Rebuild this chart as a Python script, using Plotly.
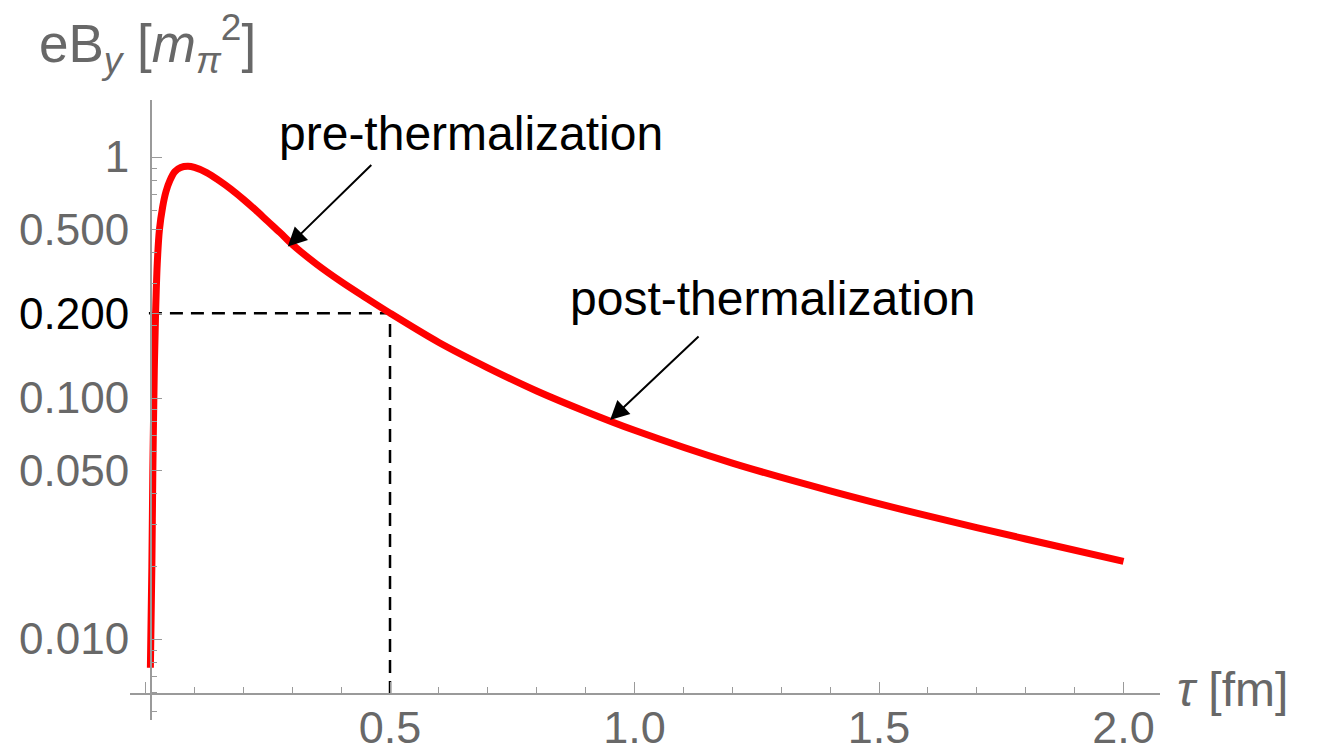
import plotly.graph_objects as go
import math

# ---- data ----
tau = [0.0100, 0.0130, 0.0150, 0.0180, 0.0205, 0.0240, 0.0285, 0.0350, 0.0420,
       0.0500, 0.0600, 0.0720, 0.0870, 0.1000, 0.1250, 0.1500, 0.1750, 0.2000,
       0.2250, 0.2500, 0.2750, 0.3000, 0.3500, 0.4000, 0.4500, 0.5000, 0.6000,
       0.7000, 0.8000, 0.9000, 1.0000, 1.2000, 1.4000, 1.6000, 1.8000, 2.0000]
eBy = [0.0076, 0.020, 0.050, 0.13, 0.22, 0.36, 0.50, 0.62, 0.72,
       0.80, 0.87, 0.905, 0.915, 0.905, 0.862, 0.800, 0.735, 0.668,
       0.603, 0.541, 0.486, 0.434, 0.359, 0.304, 0.261, 0.225, 0.170,
       0.1335, 0.107, 0.088, 0.0735, 0.0537, 0.0412, 0.0324, 0.0260, 0.0210]

mark_tau = 0.5
mark_value = 0.225
mark_label = "0.200"

x_tickvals = [0, 0.5, 1.0, 1.5, 2.0]
x_ticktext = ["", "0.5", "1.0", "1.5", "2.0"]
x_minor = [0.1, 0.2, 0.3, 0.4, 0.6, 0.7, 0.8, 0.9, 1.1, 1.2, 1.3, 1.4,
           1.6, 1.7, 1.8, 1.9]

y_tickvals = [0.01, 0.05, 0.1, 0.5, 1.0]
y_ticktext = ["0.010", "0.050", "0.100", "0.500", "1"]
y_minor = [0.005, 0.006, 0.007, 0.008, 0.009,
           0.02, 0.03, 0.04, 0.06, 0.07, 0.08, 0.09,
           0.2, 0.3, 0.4, 0.6, 0.7, 0.8, 0.9]

pre_point = (0.291, 0.425)
post_point = (0.950, 0.081)

# ---- layout geometry ----
W, H = 1317, 752
L, R, T, B = 130, 157, 100, 32
x_range = [-0.0317, 2.0746]
y_range = [-2.336, 0.2365]
x_axis_cross = 0.00592      # y value where the tau axis sits
y_axis_cross = 0.0107       # tau value where the eB axis sits
dash_left = 0.007

FONT = "Liberation Sans, Arial, Helvetica, sans-serif"
GRAY = "#686868"
AXC = "#9a9a9a"


def ypos(v):
    return (math.log10(v) - y_range[0]) / (y_range[1] - y_range[0])


def xpos(t):
    return (t - x_range[0]) / (x_range[1] - x_range[0])


fig = go.Figure()
fig.add_trace(go.Scatter(
    x=[dash_left, mark_tau, mark_tau], y=[mark_value, mark_value, x_axis_cross],
    mode="lines", line=dict(color="black", width=2.5, dash="13px,8px"),
    hoverinfo="skip", showlegend=False))
fig.add_trace(go.Scatter(
    x=tau, y=eBy, mode="lines",
    line=dict(color="#ff0000", width=7, shape="spline", smoothing=0.9),
    hoverinfo="skip", showlegend=False))

fig.update_layout(
    width=W, height=H, margin=dict(l=L, r=R, t=T, b=B, autoexpand=False),
    paper_bgcolor="white", plot_bgcolor="white",
    font=dict(family=FONT, size=40, color=GRAY),
    xaxis=dict(range=x_range, domain=[0, 1], anchor="free",
               position=ypos(x_axis_cross), automargin=False,
               showline=True, linecolor=AXC, linewidth=1.5,
               showgrid=False, zeroline=False,
               tickmode="array", tickvals=x_tickvals, ticktext=x_ticktext,
               ticks="inside", ticklen=11, tickwidth=1.3, tickcolor=AXC,
               tickfont=dict(size=45, color=GRAY, family=FONT),
               ticklabelstandoff=-6,
               minor=dict(tickmode="array", tickvals=x_minor, ticks="inside",
                          ticklen=6, tickwidth=1.3, tickcolor=AXC,
                          showgrid=False)),
    yaxis=dict(type="log", range=y_range, domain=[0, 1], anchor="free",
               position=xpos(y_axis_cross), automargin=False,
               showline=True, linecolor=AXC, linewidth=1.5,
               showgrid=False, zeroline=False,
               tickmode="array",
               tickvals=y_tickvals + [mark_value],
               ticktext=y_ticktext + ['<span style="color:black">' + mark_label + '</span>'],
               ticks="inside", ticklen=11, tickwidth=1.3, tickcolor=AXC,
               tickfont=dict(size=44, color=GRAY, family=FONT),
               ticklabelstandoff=12,
               minor=dict(tickmode="array", tickvals=y_minor, ticks="inside",
                          ticklen=6, tickwidth=1.3, tickcolor=AXC,
                          showgrid=False)),
)


def px2paper(px, py):
    return (px - L) / (W - L - R), (H - B - py) / (H - T - B)


anns = []
# axis titles
tx, ty = px2paper(37, 44)
anns.append(dict(xref="paper", yref="paper", x=tx, y=ty, xanchor="left", yanchor="middle",
                 text="eB<sub><i>y</i></sub> [<i>m</i><sub><i>π</i></sub><sup>2</sup>]",
                 showarrow=False, font=dict(size=53, color=GRAY, family=FONT)))
tx, ty = px2paper(1175, 689)
anns.append(dict(xref="paper", yref="paper", x=tx, y=ty, xanchor="left", yanchor="middle",
                 text="<i>τ</i> [fm]", showarrow=False,
                 font=dict(size=48, color=GRAY, family=FONT)))
# texts
tx, ty = px2paper(471, 133)
anns.append(dict(xref="paper", yref="paper", x=tx, y=ty, xanchor="center", yanchor="middle",
                 text="pre-thermalization", showarrow=False,
                 font=dict(size=48, color="black", family=FONT)))
tx, ty = px2paper(773, 298)
anns.append(dict(xref="paper", yref="paper", x=tx, y=ty, xanchor="center", yanchor="middle",
                 text="post-thermalization", showarrow=False,
                 font=dict(size=48, color="black", family=FONT)))
# arrows
for (pt, (axo, ayo)) in [(pre_point, (85, -83)), (post_point, (90, -85))]:
    anns.append(dict(xref="x", yref="y", x=pt[0], y=math.log10(pt[1]), text="",
                     showarrow=True, ax=axo, ay=ayo, axref="pixel", ayref="pixel",
                     arrowhead=2, arrowsize=1.9, arrowwidth=2, arrowcolor="black",
                     standoff=0))
fig.update_layout(annotations=anns)

fig.write_html("out.html")
